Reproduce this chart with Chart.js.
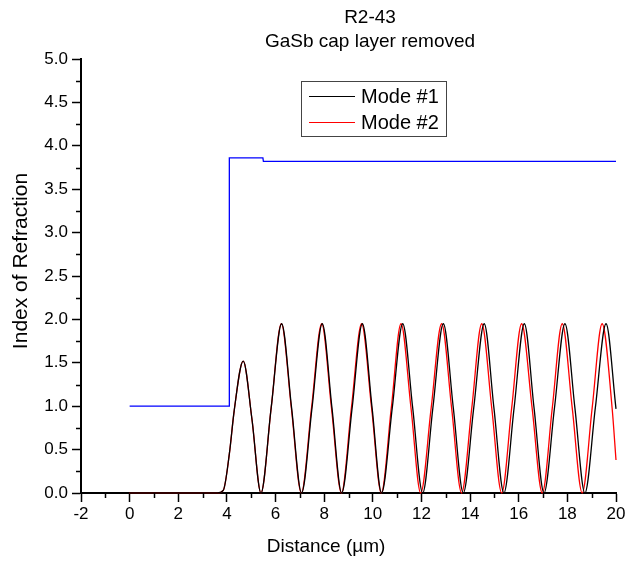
<!DOCTYPE html>
<html>
<head>
<meta charset="utf-8">
<script src="https://cdn.jsdelivr.net/npm/chart.js@4"></script>
<style>
body{margin:0;background:#fff;}
#wrap{width:625px;height:563px;}
</style>
</head>
<body>
<div id="wrap"><canvas id="chart" width="625" height="563"></canvas></div>
<script>
// values
var titleLines = ["R2-43", "GaSb cap layer removed"];
var xTitle = "Distance (\u00b5m)";
var yTitle = "Index of Refraction";

var indexX = [0, 4.1, 4.1, 5.48, 5.5, 20];
var indexY = [1.0, 1.0, 3.86, 3.86, 3.82, 3.82];

var mode1X = [0, 3.6, 3.85, 4.1, 4.3, 4.67, 5.03, 5.4, 5.82, 6.25, 6.66, 7.07, 7.5, 7.92, 8.32, 8.72, 9.15, 9.57, 9.97, 10.36, 10.8, 11.23, 11.64, 12.05, 12.47, 12.9, 13.31, 13.72, 14.15, 14.58, 14.98, 15.39, 15.81, 16.23, 16.63, 17.04, 17.47, 17.9, 18.31, 18.72, 19.15, 19.59, 20];
var mode1Y = [0, 0, 0.03, 0.45, 0.95, 1.52, 0.85, 0, 0.98, 1.95, 0.98, 0, 0.98, 1.95, 0.98, 0, 0.98, 1.95, 0.98, 0, 0.98, 1.95, 0.98, 0, 0.98, 1.95, 0.98, 0, 0.98, 1.95, 0.98, 0, 0.98, 1.95, 0.98, 0, 0.98, 1.95, 0.98, 0, 0.98, 1.95, 0.97];

var mode2X = [0, 3.6, 3.85, 4.1, 4.3, 4.67, 5.03, 5.4, 5.82, 6.24, 6.65, 7.06, 7.48, 7.9, 8.3, 8.71, 9.12, 9.54, 9.95, 10.35, 10.76, 11.16, 11.57, 11.97, 12.4, 12.83, 13.24, 13.65, 14.07, 14.48, 14.89, 15.3, 15.71, 16.12, 16.55, 16.97, 17.38, 17.79, 18.2, 18.61, 19.02, 19.43, 19.84, 20];
var mode2Y = [0, 0, 0.03, 0.45, 0.95, 1.52, 0.85, 0, 0.98, 1.95, 0.98, 0, 0.98, 1.95, 0.98, 0, 0.98, 1.95, 0.98, 0, 0.98, 1.95, 0.98, 0, 0.98, 1.95, 0.98, 0, 0.98, 1.95, 0.98, 0, 0.98, 1.95, 0.98, 0, 0.98, 1.95, 0.98, 0, 0.98, 1.95, 0.98, 0.38];

var xMinorTicks = [-1, 1, 3, 5, 7, 9, 11, 13, 15, 17, 19];
var yMinorTicks = [0.25, 0.75, 1.25, 1.75, 2.25, 2.75, 3.25, 3.75, 4.25, 4.75];

function pts(xs, ys){
    return xs.map(function(x, i){ return {x: x, y: ys[i]}; });
}

var FONT = "'Liberation Sans', Arial, Helvetica, sans-serif";

var extras = {
    id: "extras",
    afterDraw: function(chart){
        var ctx = chart.ctx;
        var xs = chart.scales.x, ys = chart.scales.y;
        var area = chart.chartArea;
        ctx.save();
        ctx.strokeStyle = "#000";
        ctx.lineWidth = 1.5;
        // minor ticks
        xMinorTicks.forEach(function(v){
            var px = Math.round(xs.getPixelForValue(v)) + 0.5;
            ctx.beginPath();
            ctx.moveTo(px, area.bottom);
            ctx.lineTo(px, area.bottom + 5);
            ctx.stroke();
        });
        yMinorTicks.forEach(function(v){
            var py = Math.round(ys.getPixelForValue(v)) + 0.5;
            ctx.beginPath();
            ctx.moveTo(area.left, py);
            ctx.lineTo(area.left - 5, py);
            ctx.stroke();
        });

        // titles
        ctx.fillStyle = "#000";
        ctx.textAlign = "center";
        ctx.textBaseline = "middle";
        ctx.font = "19px " + FONT;
        ctx.fillText(titleLines[0], 370, 18);
        ctx.fillText(titleLines[1], 370, 42);
        ctx.fillText(xTitle, 326, 547);
        ctx.save();
        ctx.translate(21, 261);
        ctx.rotate(-Math.PI / 2);
        ctx.font = "21px " + FONT;
        ctx.fillText(yTitle, 0, 0);
        ctx.restore();

        // legend box
        ctx.strokeStyle = "#444";
        ctx.lineWidth = 1;
        ctx.strokeRect(301.5, 81.5, 145, 55);
        ctx.textAlign = "left";
        ctx.font = "20px " + FONT;
        [chart.data.datasets[1], chart.data.datasets[2]].forEach(function(ds, i){
            var y = 96 + i * 26;
            ctx.strokeStyle = ds.borderColor;
            ctx.lineWidth = 1;
            ctx.beginPath();
            ctx.moveTo(309, y + 0.5);
            ctx.lineTo(355, y + 0.5);
            ctx.stroke();
            ctx.fillStyle = "#000";
            ctx.fillText(ds.label, 361, y + 1);
        });
        ctx.restore();
    }
};

new Chart(document.getElementById("chart"), {
    type: "scatter",
    data: {
        datasets: [
            {
                label: "Index",
                data: pts(indexX, indexY),
                showLine: true,
                borderColor: "#0000ff",
                borderWidth: 1.3,
                pointRadius: 0,
                tension: 0,
                clip: false
            },
            {
                label: "Mode #1",
                data: pts(mode1X, mode1Y),
                showLine: true,
                borderColor: "#000000",
                borderWidth: 1.3,
                pointRadius: 0,
                cubicInterpolationMode: "monotone",
                clip: false
            },
            {
                label: "Mode #2",
                data: pts(mode2X, mode2Y),
                showLine: true,
                borderColor: "#ff0000",
                borderWidth: 1.3,
                pointRadius: 0,
                cubicInterpolationMode: "monotone",
                clip: false
            }
        ]
    },
    plugins: [extras],
    options: {
        responsive: false,
        animation: false,
        layout: {padding: {left: 0, top: 59, right: 9, bottom: 0}},
        plugins: {
            legend: {display: false},
            tooltip: {enabled: false}
        },
        scales: {
            x: {
                type: "linear",
                min: -2,
                max: 20,
                afterFit: function(s){ s.height = 70; s.paddingRight = 0; s.paddingLeft = 0; },
                ticks: {
                    stepSize: 2,
                    color: "#000",
                    padding: 2,
                    font: {family: FONT, size: 17}
                },
                grid: {drawOnChartArea: false, drawTicks: true, tickLength: 9, tickColor: "#000", tickWidth: 1.5},
                border: {color: "#000", width: 2}
            },
            y: {
                type: "linear",
                min: 0,
                max: 5,
                afterFit: function(s){ s.width = 81; s.paddingTop = 0; s.paddingBottom = 0; },
                ticks: {
                    stepSize: 0.5,
                    color: "#000",
                    padding: 4,
                    font: {family: FONT, size: 17},
                    callback: function(v){ return v.toFixed(1); }
                },
                grid: {drawOnChartArea: false, drawTicks: true, tickLength: 9, tickColor: "#000", tickWidth: 1.5},
                border: {color: "#000", width: 2}
            }
        }
    }
});
</script>
</body>
</html>
